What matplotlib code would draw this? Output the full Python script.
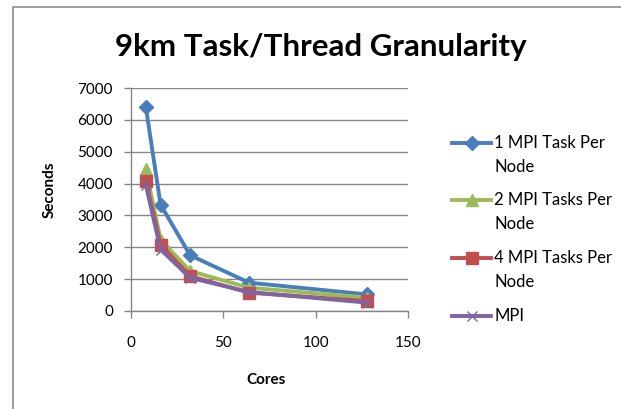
import matplotlib
matplotlib.use("Agg")
import matplotlib.pyplot as plt
from matplotlib.lines import Line2D
from matplotlib.patches import Rectangle

plt.rcParams['font.family'] = ['Lato', 'DejaVu Sans']

cores = [8, 16, 32, 64, 128]
one_task = [6415, 3340, 1750, 888, 520]
two_tasks = [4455, 2243, 1252, 731, 418]
four_tasks = [4090, 2087, 1095, 575, 313]
mpi = [3964, 1930, 1043, 595, 261]

labels = ["1 MPI Task Per\nNode", "2 MPI Tasks Per\nNode", "4 MPI Tasks Per\nNode", "MPI"]
title = "9km Task/Thread Granularity"
xticks = [0, 50, 100, 150]
yticks = [0, 1000, 2000, 3000, 4000, 5000, 6000, 7000]

W, H = 621, 409
fig = plt.figure(figsize=(W / 100, H / 100), dpi=100)
fig.patch.set_facecolor('white')

# chart-area border (clipped at right/bottom)
fig.add_artist(Rectangle((12.5 / W, -0.1), 1.2, 1 - 7.5 / H + 0.1, transform=fig.transFigure,
                         fill=False, edgecolor='#8c8c8c', linewidth=1.2))

ax = fig.add_axes([131 / W, 1 - 311 / H, (408 - 131) / W, (311 - 88) / H])

series = [
    (one_task, '#4A7EBB', 'D', 7, labels[0]),
    (two_tasks, '#9BBB59', '^', 9, labels[1]),
    (four_tasks, '#C0504D', 's', 9, labels[2]),
    (mpi, '#8064A2', 'x', 7, labels[3]),
]
for vals, col, mk, ms, lab in series:
    ax.plot(cores, vals, color=col, linewidth=2.8, marker=mk, markersize=ms,
            markerfacecolor=col, markeredgecolor=col, markeredgewidth=1, label=lab,
            solid_joinstyle='round')

ax.set_xlim(0, 150)
ax.set_ylim(0, 7000)
ax.set_xticks(xticks)
ax.set_yticks(yticks)
ax.set_xticklabels([str(t) for t in xticks])
ax.set_yticklabels([str(t) for t in yticks])
ax.grid(axis='y', color='#868686', linewidth=1)
ax.set_axisbelow(True)
for s in ['top', 'right']:
    ax.spines[s].set_visible(False)
for s in ['left', 'bottom']:
    ax.spines[s].set_color('#868686')
    ax.spines[s].set_linewidth(1)
ax.tick_params(axis='both', colors='#868686', labelcolor='black', labelsize=11, length=5,
               width=1)
ax.tick_params(axis='y', direction='out', pad=8)
ax.tick_params(axis='x', direction='out', pad=13)

ax.set_xlabel("Cores", fontsize=11, fontweight='bold')
ax.set_ylabel("Seconds", fontsize=11, fontweight='bold')
ax.xaxis.set_label_coords(0.487, -0.31)
ax.yaxis.set_label_coords(-0.292, 0.543)
ax.xaxis.label.set_va('center')
ax.yaxis.label.set_va('center')

fig.text(321 / W, 1 - 47 / H, title, ha='center', va='center', fontsize=22.5, fontweight='bold')

# legend drawn manually (Excel style: marker beside first line of wrapped text)
leg_y = [143, 200, 258, 316]
for (vals, col, mk, ms, lab), y in zip(series, leg_y):
    fy = 1 - y / H
    fig.add_artist(Line2D([452 / W, 491 / W], [fy, fy], transform=fig.transFigure,
                          color=col, linewidth=2.8))
    fig.add_artist(Line2D([471.5 / W], [fy], transform=fig.transFigure, color=col,
                          marker=mk, markersize=ms, markerfacecolor=col, markeredgecolor=col))
    fig.text(494 / W, fy + 8 / H, lab, ha='left', va='top', fontsize=12,
             linespacing=1.6)

fig.savefig("out.png", dpi=100)
